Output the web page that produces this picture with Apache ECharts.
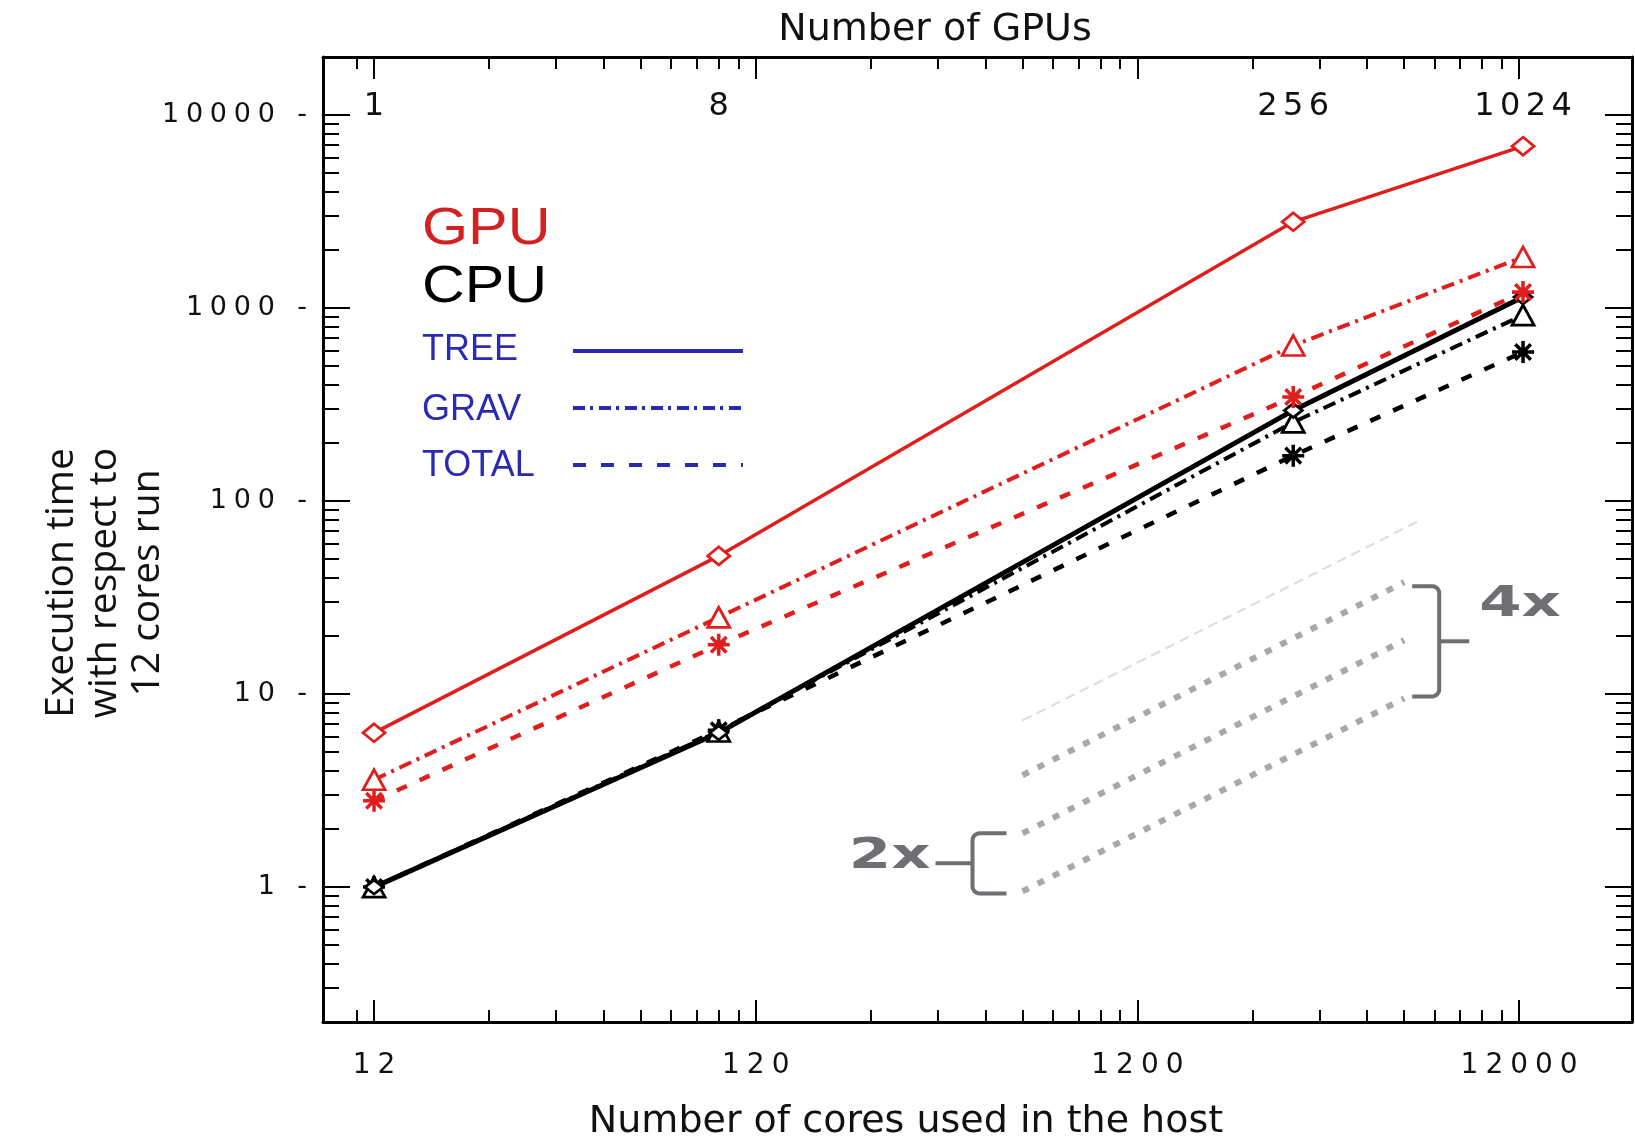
<!DOCTYPE html>
<html>
<head>
<meta charset="utf-8">
<script src="https://cdn.jsdelivr.net/npm/echarts@6.0.0/dist/echarts.min.js"></script>
<style>
html, body { margin: 0; padding: 0; background: #fff; }
#main { width: 1635px; height: 1142px; }
</style>
</head>
<body>
<div id="main"></div>
<script>
// x is the number of GPUs, one GPU goes with 12 host cores
var CORES_PER_GPU = 12;
var gpus = [1, 8, 256, 1024];

var gpuTree = [6.3, 52, 2800, 6900];
var gpuGrav = [3.6, 25, 640, 1840];
var gpuTotal = [2.8, 18, 346, 1210];
var cpuTree = [1, 6.3, 295, 1140];
var cpuGrav = [1, 6.4, 256, 920];
var cpuTotal = [1, 6.5, 172, 592];

// grey ideal scaling guides
var guideX = [50, 500];
var guide1 = [3.8, 38];
var guide2 = [1.9, 19];
var guide3 = [0.95, 9.5];
var faintX = [50, 540];
var faintY = [7.3, 78];

// ticks
var gpuLabels = [1, 8, 256, 1024];
var xMinor = [0.9, 2, 3, 4, 5, 6, 7, 8, 9, 20, 30, 40, 50, 60, 70, 80, 90, 200, 300, 400, 500, 600, 700, 800, 900];
var yMinor = [0.3, 0.4, 0.5, 0.6, 0.7, 0.8, 0.9, 2, 3, 4, 5, 6, 7, 8, 9, 20, 30, 40, 50, 60, 70, 80, 90,
  200, 300, 400, 500, 600, 700, 800, 900, 2000, 3000, 4000, 5000, 6000, 7000, 8000, 9000];

var X_MIN = 0.735, X_MAX = 1976;
var Y_MIN = 0.2, Y_MAX = 20000;

var RED = '#e01e1e';
var BLACK = '#000000';
var BLUE = '#2a2ab2';
var GREY = '#6e6e73';

var ASTERISK = 'path://M-1.6,-10L1.6,-10L1.6,10L-1.6,10Z M-10,-1.6L10,-1.6L10,1.6L-10,1.6Z ' +
  'M-5.94,-8.2L8.2,5.94L5.94,8.2L-8.2,-5.94Z M8.2,-5.94L-5.94,8.2L-8.2,5.94L5.94,-8.2Z';

function spaced(v, gap) {
  return String(v).split('').join(gap);
}

var tickLine = { color: '#000', width: 2 };

function xAxisOf(pos, opts) {
  var a = {
    type: 'log', logBase: 10, min: X_MIN, max: X_MAX, position: pos,
    axisLine: { show: false },
    axisTick: { show: false },
    axisLabel: { show: false },
    splitLine: { show: false },
    axisPointer: { show: false }
  };
  return Object.assign(a, opts);
}
function yAxisOf(pos, opts) {
  var a = {
    type: 'log', logBase: 10, min: Y_MIN, max: Y_MAX, position: pos,
    axisLine: { show: false },
    axisTick: { show: false },
    axisLabel: { show: false },
    splitLine: { show: false },
    axisPointer: { show: false }
  };
  return Object.assign(a, opts);
}

function serie(name, ys, color, dash, width, symbol, size, hollow) {
  return {
    name: name, type: 'line', xAxisIndex: 0, yAxisIndex: 0,
    data: gpus.map(function (g, i) { return [g, ys[i]]; }),
    symbol: symbol, symbolSize: size, showAllSymbol: true,
    lineStyle: { color: color, width: width, type: dash },
    itemStyle: hollow ? { color: '#fff', borderColor: color, borderWidth: 2.8 } : { color: color, borderWidth: 0 },
    emphasis: { disabled: true }, silent: true, z: 3
  };
}
function guide(xs, ys, color, width, dash) {
  return {
    type: 'line', xAxisIndex: 0, yAxisIndex: 0, symbol: 'none', silent: true, z: 1,
    data: xs.map(function (x, i) { return [x, ys[i]]; }),
    lineStyle: { color: color, width: width, type: dash }
  };
}

var chart = echarts.init(document.getElementById('main'));

var option = {
  animation: false,
  backgroundColor: '#fff',
  textStyle: { fontFamily: 'DejaVu Sans' },
  grid: { left: 323, right: 3, top: 57, bottom: 120, containLabel: false, outerBoundsMode: 'none' },
  xAxis: [
    xAxisOf('bottom', {
      axisLine: { show: true, onZero: false, lineStyle: { color: '#000', width: 3 } },
      axisTick: { show: true, inside: true, length: 22, lineStyle: tickLine },
      axisLabel: {
        show: true, margin: 30, fontSize: 28, color: '#111', fontFamily: 'DejaVu Sans',
        showMinLabel: false, showMaxLabel: false,
        formatter: function (v) { return spaced(Math.round(v * CORES_PER_GPU), '\u2005'); }
      }
    }),
    xAxisOf('bottom', {
      axisTick: { show: true, inside: true, length: 12, lineStyle: tickLine, customValues: xMinor }
    }),
    xAxisOf('top', {
      axisLine: { show: true, onZero: false, lineStyle: { color: '#000', width: 3 } },
      axisTick: { show: true, inside: true, length: 22, lineStyle: tickLine }
    }),
    xAxisOf('top', {
      axisTick: { show: true, inside: true, length: 12, lineStyle: tickLine, customValues: xMinor }
    }),
    xAxisOf('top', {
      axisLabel: {
        show: true, inside: true, margin: 34, fontSize: 32, color: '#111', fontFamily: 'DejaVu Sans',
        customValues: gpuLabels,
        formatter: function (v) { return spaced(Math.round(v), '\u2006'); }
      }
    })
  ],
  yAxis: [
    yAxisOf('left', {
      axisLine: { show: true, onZero: false, lineStyle: { color: '#000', width: 3 } },
      axisTick: { show: true, inside: true, length: 27, lineStyle: tickLine },
      axisLabel: {
        show: true, margin: 16, fontSize: 27, color: '#111', fontFamily: 'DejaVu Sans',
        showMinLabel: false, showMaxLabel: false,
        formatter: function (v) { return spaced(v, '\u2005') + '\u2002\u2004-'; }
      }
    }),
    yAxisOf('left', {
      axisTick: { show: true, inside: true, length: 16, lineStyle: tickLine, customValues: yMinor }
    }),
    yAxisOf('right', {
      axisLine: { show: true, onZero: false, lineStyle: { color: '#000', width: 3 } },
      axisTick: { show: true, inside: true, length: 27, lineStyle: tickLine }
    }),
    yAxisOf('right', {
      axisTick: { show: true, inside: true, length: 16, lineStyle: tickLine, customValues: yMinor }
    })
  ],
  series: [
    guide(faintX, faintY, '#dcdcdc', 2, [10, 6]),
    guide(guideX, guide1, '#a8a8a8', 6, [7, 10]),
    guide(guideX, guide2, '#a8a8a8', 6, [7, 10]),
    guide(guideX, guide3, '#a8a8a8', 6, [7, 10]),
    serie('CPU TOTAL', cpuTotal, BLACK, [11, 14], 4.5, ASTERISK, 22, false),
    serie('CPU GRAV', cpuGrav, BLACK, [13, 6, 3, 6], 4, 'triangle', [22, 20], true),
    serie('CPU TREE', cpuTree, BLACK, 'solid', 5, 'diamond', [18, 14], true),
    serie('GPU TOTAL', gpuTotal, RED, [11, 14], 4.5, ASTERISK, 22, false),
    serie('GPU GRAV', gpuGrav, RED, [13, 6, 3, 6], 4, 'triangle', [22, 20], true),
    serie('GPU TREE', gpuTree, RED, 'solid', 3.5, 'diamond', [22, 18], true)
  ]
};
chart.setOption(option);

// annotations placed from the guide lines' pixel positions
function px(x, y) { return chart.convertToPixel({ xAxisIndex: 0, yAxisIndex: 0 }, [x, y]); }

function arc(cx, cy, r, a0, a1) {
  var pts = [];
  for (var i = 0; i <= 6; i++) {
    var a = a0 + (a1 - a0) * i / 6;
    pts.push([cx + r * Math.cos(a), cy + r * Math.sin(a)]);
  }
  return pts;
}

var e1 = px(guideX[1], guide1[1]);
var e3 = px(guideX[1], guide3[1]);
var s2 = px(guideX[0], guide2[0]);
var s3 = px(guideX[0], guide3[0]);
var R = 7;

var rA = e1[0] + 8, rB = e1[0] + 35, rT = e1[1] + 4, rD = e3[1] - 2, rM = (rT + rD) / 2;
var bracket4 = [[rA, rT]]
  .concat(arc(rB - R, rT + R, R, -Math.PI / 2, 0))
  .concat(arc(rB - R, rD - R, R, 0, Math.PI / 2))
  .concat([[rA, rD]]);

var lA = s2[0] - 16, lB = s2[0] - 50, lT = s2[1], lD = s3[1] + 2, lM = (lT + lD) / 2;
var bracket2 = [[lA, lT]]
  .concat(arc(lB + R, lT + R, R, -Math.PI / 2, -Math.PI))
  .concat(arc(lB + R, lD - R, R, Math.PI, Math.PI / 2))
  .concat([[lA, lD]]);

function txt(x, y, text, size, color, family, extra) {
  var el = {
    type: 'text', x: x, y: y, silent: true, z: 10,
    style: { text: text, fontSize: size, fontFamily: family, fill: color, align: 'left', verticalAlign: 'middle' }
  };
  if (extra) {
    Object.keys(extra).forEach(function (k) {
      if (k === 'style') Object.assign(el.style, extra.style); else el[k] = extra[k];
    });
  }
  return el;
}
function seg(x1, y1, x2, y2, stroke, width, dash) {
  return {
    type: 'line', silent: true, z: 10,
    shape: { x1: x1, y1: y1, x2: x2, y2: y2 },
    style: { stroke: stroke, lineWidth: width, lineDash: dash || null }
  };
}
function poly(points) {
  return {
    type: 'polyline', silent: true, z: 10,
    shape: { points: points },
    style: { fill: null, stroke: GREY, lineWidth: 4, lineJoin: 'round' }
  };
}

chart.setOption({
  graphic: [
    txt(935, 30, 'Number of GPUs', 38, '#111', 'DejaVu Sans', { style: { align: 'center' } }),
    txt(906, 1122, 'Number of cores used in the host', 38, '#111', 'DejaVu Sans', { style: { align: 'center' } }),
    txt(105, 583, 'Execution time\nwith respect to\n12 cores run', 39, '#111', 'Open Sans',
      { rotation: Math.PI / 2, style: { align: 'center', lineHeight: 43 } }),
    txt(422, 230, 'GPU', 52, '#d42020', 'Liberation Sans', { scaleX: 1.14 }),
    txt(422, 288, 'CPU', 52, '#000', 'Liberation Sans', { scaleX: 1.14 }),
    txt(422, 350, 'TREE', 36, BLUE, 'Liberation Sans'),
    txt(422, 410, 'GRAV', 36, BLUE, 'Liberation Sans'),
    txt(422, 466, 'TOTAL', 36, BLUE, 'Liberation Sans'),
    seg(573, 351, 743, 351, BLUE, 4),
    seg(573, 408, 743, 408, BLUE, 4, [12, 5, 3, 6]),
    seg(573, 465, 743, 465, BLUE, 4, [13, 15]),
    poly(bracket4),
    seg(rB, rM, rB + 30, rM, GREY, 4),
    poly(bracket2),
    seg(lB, lM, lB - 37, lM, GREY, 4),
    txt(rB + 40, rM - 36, '4x', 42, GREY, 'DejaVu Sans', { scaleX: 1.45, style: { fontWeight: 'bold' } }),
    txt(lB - 42, lM - 6, '2x', 42, GREY, 'DejaVu Sans', { scaleX: 1.45, style: { fontWeight: 'bold', align: 'right' } })
  ]
});
</script>
</body>
</html>
